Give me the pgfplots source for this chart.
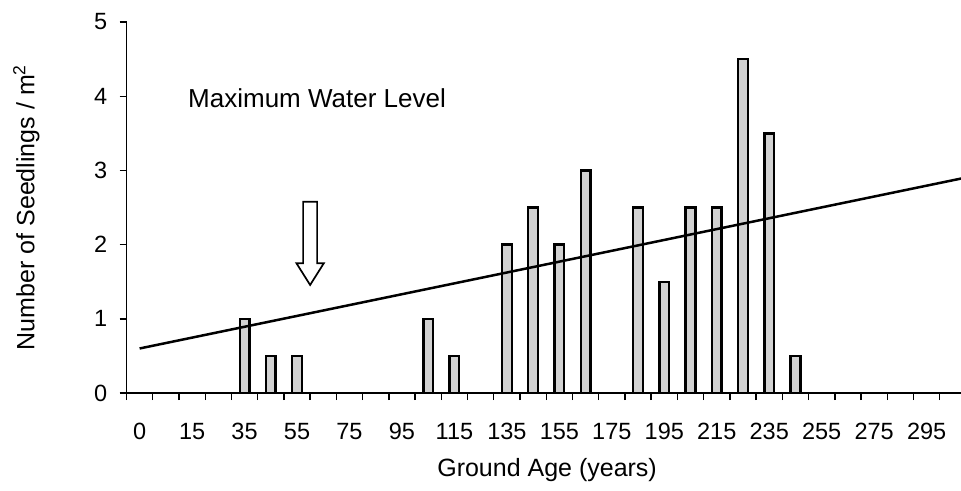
\documentclass[border=0pt]{standalone}
\usepackage{fontspec}
\setmainfont{Liberation Sans}
\usepackage{pgfplots}
\pgfplotsset{compat=1.18}
\definecolor{barfill}{RGB}{210,210,210}
\begin{document}
\begin{tikzpicture}
\useasboundingbox (0,0) rectangle (961pt,490pt);
\begin{axis}[
  at={(126.5pt,97pt)}, anchor=south west,
  scale only axis, width=834.5pt, height=371pt,
  xmin=-0.5, xmax=31.31, ymin=0, ymax=5,
  axis x line*=bottom, axis y line*=left,
  axis line style={-, line width=1.6pt, black},
  xtick={0,2,...,30},
  xticklabels={0,15,35,55,75,95,115,135,155,175,195,215,235,255,275,295},
  minor xtick={-0.5,0.5,...,30.5},
  ytick={0,1,...,5}, yticklabels={0,1,2,3,4,5},
  minor ytick={0,1,...,5},
  major tick length=0pt, minor tick length=7pt,
  tick align=outside,
  tick style={line width=1.4pt, black},
  tick label style={font=\fontsize{23.5}{27}\selectfont},
  xticklabel style={anchor=base, yshift=-46pt, inner sep=0pt},
  yticklabel style={anchor=east, xshift=-19pt, inner sep=0pt},
  xlabel={Ground Age (years)},
  ylabel={Number of Seedlings / m\textsuperscript{2}},
  label style={font=\fontsize{25}{29}\selectfont},
  xlabel style={at={(rel axis cs:0.504,-0.2264)}, anchor=base, inner sep=0pt},
  ylabel style={at={(rel axis cs:-0.1103,0.5)}, anchor=base, inner sep=0pt, rotate=0},
  clip=false,
]
\addplot[ybar, bar width=0.37, fill=barfill, draw=black, line width=2.4pt]
  coordinates {
    (4,1.0) (5,0.5) (6,0.5) (11,1.0) (12,0.5)
    (14,2.0) (15,2.5) (16,2.0) (17,3.0) (19,2.5) (20,1.5)
    (21,2.5) (22,2.5) (23,4.5) (24,3.5) (25,0.5)
  };
\addplot[black, line width=2.5pt] coordinates {(0,0.60) (31.31,2.89)};
\draw[black, line width=1.7pt, fill=white]
  (axis cs:6.233,2.578) -- (axis cs:6.767,2.578) -- (axis cs:6.767,1.748)
  -- (axis cs:7.02,1.748) -- (axis cs:6.5,1.456) -- (axis cs:5.98,1.748)
  -- (axis cs:6.233,1.748) -- cycle;
\node[anchor=base west, inner sep=0pt, font=\fontsize{26}{30}\selectfont]
  at (axis cs:1.845,3.85) {Maximum Water Level};
\end{axis}
\end{tikzpicture}
\end{document}
